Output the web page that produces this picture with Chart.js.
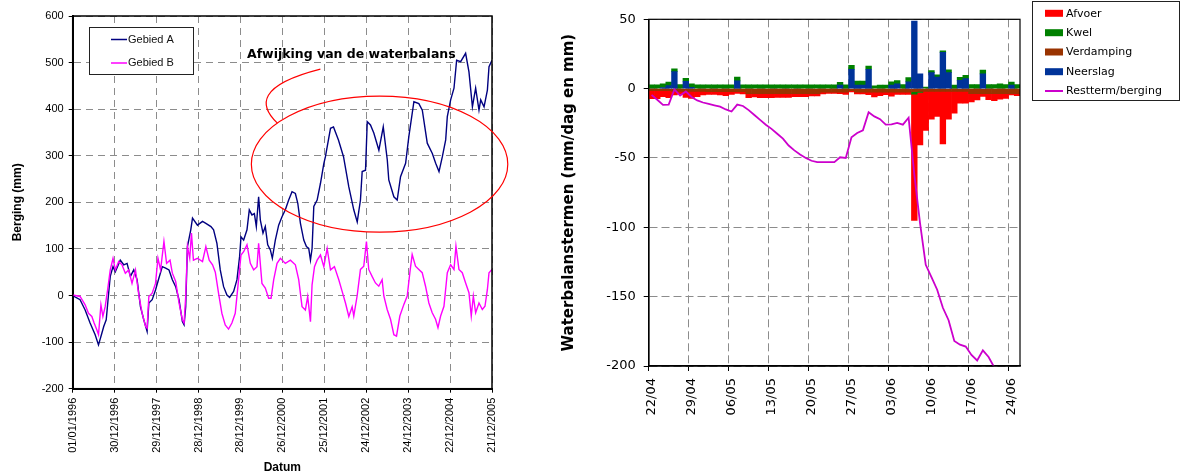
<!DOCTYPE html>
<html><head><meta charset="utf-8">
<script src="https://cdn.jsdelivr.net/npm/chart.js@4.4.0/dist/chart.umd.min.js"></script>
<style>
html,body{margin:0;padding:0;background:#fff;}
#wrap{position:relative;width:1188px;height:475px;overflow:hidden;background:#fff;}
#c1{position:absolute;left:0;top:0;}
#c2{position:absolute;left:560px;top:0;}
</style></head><body>
<div id="wrap"><canvas id="c1" width="560" height="475"></canvas><canvas id="c2" width="628" height="475"></canvas></div>
<script>
// ---------- LEFT CHART DATA ----------
const leftTickLabels = ['01/01/1996','30/12/1996','29/12/1997','28/12/1998','28/12/1999','26/12/2000','25/12/2001','24/12/2002','24/12/2003','22/12/2004','21/12/2005'];
const leftSeriesNames = ['Gebied A','Gebied B'];
// day number since 01/01/1996
const dagA = [0,64,108,151,195,224,253,270,291,312,326,350,370,413,443,472,501,530,559,588,617,646,661,690,719,748,778,807,836,865,894,923,952,967,981,996,1025,1040,1083,1127,1156,1200,
1223,1252,1281,1310,1339,1362,1397,1426,1449,1461,1484,1513,1533,1556,1577,1594,1614,1629,1652,1672,1693,1716,1733,1759,1788,1817,1846,1875,1904,1933,1954,1977,2006,2029,2049,2064,2078,2093,2122,2151,2180,
2194,2238,2264,2307,2351,2397,2440,2470,2498,2513,2542,2557,2585,2614,2658,2696,2731,2744,2788,2817,2846,2890,2918,2962,3005,3035,3078,3122,3151,3180,3209,3238,3252,3281,3310,3333,3368,3411,3440,3470,3498,3527,3542,3571,3600,3614,3640];
const bergingA = [0,-9,-31,-59,-84,-106,-81,-66,-52,5,41,62,51,76,66,69,41,55,34,-24,-52,-77,-16,-9,12,37,62,59,55,34,19,-9,-56,-63,-24,105,141,166,151,159,155,148,
141,112,55,19,1,-4,9,34,84,126,119,141,184,173,176,148,212,162,134,148,109,98,80,119,151,169,184,205,223,219,198,155,119,105,101,76,101,191,205,241,283,
298,359,362,334,298,233,184,158,205,266,269,373,366,349,312,362,291,248,212,205,255,284,341,416,412,398,327,305,284,266,298,334,384,420,445,505,502,520,480,405,445,398,420,405,441,491,505];
const dagB = [0,64,108,137,166,186,210,224,245,262,282,303,326,350,370,399,428,457,486,515,545,574,603,632,646,661,690,719,740,763,792,815,845,865,894,923,952,967,981,996,1016,1031,1048,1083,1127,1156,1185,1214,1238,
1266,1295,1324,1353,1382,1411,1440,1461,1484,1513,1542,1571,1600,1614,1643,1672,1701,1722,1745,1774,1803,1846,1890,1933,1962,1991,2020,2040,2064,2078,2099,2122,2151,2180,2209,2238,2272,2310,2339,2368,2397,2426,
2440,2469,2498,2527,2550,2570,2599,2628,2657,2686,2701,2730,2759,2788,2811,2840,2875,2904,2927,2947,2976,3005,3034,3063,3092,3121,3150,3171,3194,3223,3252,3281,3310,3327,3353,3382,3411,3440,3460,3478,3498,3527,3556,3579,3600,3614,3640];
const bergingB = [1,-2,-20,-38,-45,-59,-74,-84,-20,-45,-24,12,55,80,55,73,66,48,55,26,55,1,-38,-66,-70,-2,5,26,80,55,116,69,76,48,30,-16,-52,-59,-2,105,80,134,76,80,73,105,76,66,50,
5,-38,-63,-72,-59,-38,34,87,94,109,69,55,62,112,26,16,-6,-6,34,69,80,69,76,66,34,-24,-31,-2,-56,23,62,76,87,62,101,55,62,34,9,-16,-45,-24,
-44,-1,56,63,116,56,41,27,20,34,-1,-30,-51,-84,-87,-44,-19,-1,49,88,63,56,49,20,-16,-37,-51,-69,-44,-23,49,66,56,106,56,49,27,6,-44,-1,-37,-16,-30,-23,13,49,56];
// annotation in data units (days, mm)
const annotationText = 'Afwijking van de waterbalans';
const ellipseData = {cx:2664, cy:282, rx:1113, ry:146};
const pointerCurve = [[1777,370],[1611,409],[1611,452],[2150,486]];
const annotationAnchor = [1513,509];

// ---------- RIGHT CHART DATA ----------
const rightTickLabels = ['22/04','29/04','06/05','13/05','20/05','27/05','03/06','10/06','17/06','24/06'];
const rightLegendOrder = ['Afvoer','Kwel','Verdamping','Neerslag','Restterm/berging'];
const afvoer = [-5.7,-5.7,-4.3,-5.0,-2.6,-2.0,-4.3,-5.0,-3.8,-2.6,
 -1.9,-1.9,-2.4,-2.8,-1.9,-1.2,-1.6,-2.9,-2.4,-2.9,
 -2.9,-2.9,-2.7,-2.7,-2.7,-2.2,-2.2,-2.2,-1.7,-1.7,
 -1.3,-0.9,-0.9,-1.1,-1.6,-0.9,-1.3,-1.3,-1.8,-3.5,
 -2.5,-1.8,-3.0,-1.6,-1.6,-1.6,-91,-37.8,-28.2,-20,
 -18,-37.8,-20,-15.7,-8.5,-8.5,-6.0,-4.5,-2.1,-4.4,
 -5.0,-4.0,-3.4,-0.9,-1.4];
const kwel = [2.8,2.8,2.6,2.5,2.0,2.9,2.2,2.4,2.8,2.8,
 2.8,2.8,2.8,2.8,2.8,2.8,2.8,2.8,2.8,2.8,
 2.8,2.8,2.8,2.8,2.8,2.8,2.8,2.8,2.8,2.8,
 2.8,2.8,2.8,2.0,2.8,2.8,2.9,2.9,2.2,2.0,
 2.6,2.6,2.4,2.4,2.9,2.9,-1.8,-0.8,1.2,1.5,
 1.6,1.0,2.0,2.6,2.2,2.4,3.0,3.0,2.8,2.9,
 2.9,3.4,3.0,2.2,2.9];
const verdamping = [-1.5,-1.5,-1.5,-1.5,-2.0,-2.0,-2.0,-2.0,-2.0,-2.0,
 -2.2,-2.2,-2.2,-2.2,-2.2,-2.2,-2.2,-3.6,-3.6,-3.6,
 -3.6,-3.6,-3.6,-3.6,-3.6,-3.6,-3.6,-3.6,-3.6,-3.6,
 -2.5,-2.5,-2.5,-2.5,-2.5,-1.5,-2.5,-2.5,-2.5,-2.5,
 -2.5,-2.5,-2.5,-2.5,-2.5,-2.5,-2.2,-2.0,-2.0,-2.0,
 -2.0,-2.0,-2.0,-2.0,-2.0,-2.0,-3.6,-3.6,-3.6,-3.6,
 -3.6,-3.6,-3.6,-3.6,-3.6];
const neerslag = [0,0,0.8,2.2,12.3,0,5.3,1.0,0,0,
 0,0,0,0,0,5.6,0,0,0,0,
 0,0,0,0,0,0,0,0,0,0,
 0,0,0,2.6,0,14,2.6,2.6,14,0,
 0,0,2.6,3.4,0,5.0,48.8,10.6,0,11.5,
 8.3,26.2,11.5,0,6.0,7.2,0,0,10.6,0,
 0,0,0,2.6,0];
const restterm = [-4.5,-8,-11.7,-11.5,-0.5,-5,-2,-6,-8.5,-10,
 -11,-12,-13,-15,-16.5,-11.5,-12.5,-15.5,-19,-22.5,
 -26,-29,-32.5,-36,-41,-44.5,-47.5,-50,-52,-53,
 -53,-53,-53,-49.5,-50,-35,-32,-30,-17,-20,
 -22,-26,-25.7,-24.7,-26,-21,-62,-97,-127,-136,
 -145,-158,-167,-182,-184.6,-186,-192,-196,-188.7,-193.5,
 -201,-207];

// ---------- helpers ----------
const pairs = (xs, ys) => xs.map((x, i) => ({x: x, y: ys[i]}));
const dayBars = vals => vals.map((v, i) => ({x: i + 0.5, y: v === 0 ? null : v}));
const GRID = '#8c8c8c';

// ---------- LEFT CHART ----------
const leftFont = '"Liberation Sans", Arial, sans-serif';
const leftDecor = {
  id: 'leftDecor',
  afterDraw(chart) {
    const {ctx, chartArea: a, scales: {x, y}} = chart;
    ctx.save();
    ctx.strokeStyle = '#000'; ctx.lineWidth = 1.5;
    ctx.strokeRect(a.left, a.top, a.right - a.left, a.bottom - a.top);
    // legend box
    ctx.fillStyle = '#fff'; ctx.fillRect(89.5, 27.5, 104, 47);
    ctx.lineWidth = 1; ctx.strokeStyle = '#222'; ctx.strokeRect(89.5, 27.5, 104, 47);
    const rows = [39.5, 63];
    leftSeriesNames.forEach((name, i) => {
      const ds = chart.data.datasets.find(d => d.label === name);
      ctx.strokeStyle = ds.borderColor; ctx.lineWidth = 1.5;
      ctx.beginPath(); ctx.moveTo(111, rows[i]); ctx.lineTo(127, rows[i]); ctx.stroke();
      ctx.fillStyle = '#111'; ctx.font = '11px ' + leftFont;
      ctx.textBaseline = 'middle'; ctx.textAlign = 'left';
      ctx.fillText(name, 128, rows[i]);
    });
    // annotation
    const px = v => x.getPixelForValue(v), py = v => y.getPixelForValue(v);
    const cx = px(ellipseData.cx), cy = py(ellipseData.cy);
    const rx = px(ellipseData.cx + ellipseData.rx) - cx;
    const ry = py(ellipseData.cy - ellipseData.ry) - cy;
    ctx.strokeStyle = '#ff0000'; ctx.lineWidth = 1.2;
    ctx.beginPath(); ctx.ellipse(cx, cy, rx, ry, 0, 0, Math.PI * 2); ctx.stroke();
    const c = pointerCurve.map(p => [px(p[0]), py(p[1])]);
    ctx.beginPath(); ctx.moveTo(c[0][0], c[0][1]);
    ctx.bezierCurveTo(c[1][0], c[1][1], c[2][0], c[2][1], c[3][0], c[3][1]); ctx.stroke();
    ctx.fillStyle = '#000'; ctx.font = 'bold 12.5px "DejaVu Sans", Verdana, sans-serif';
    ctx.textAlign = 'left'; ctx.textBaseline = 'alphabetic';
    ctx.fillText(annotationText, px(annotationAnchor[0]), py(annotationAnchor[1]));
    ctx.restore();
  }
};

new Chart(document.getElementById('c1'), {
  type: 'line',
  data: {
    datasets: [
      {label: leftSeriesNames[0], data: pairs(dagA, bergingA), borderColor: '#000080', borderWidth: 1.4, pointRadius: 0, tension: 0, order: 1},
      {label: leftSeriesNames[1], data: pairs(dagB, bergingB), borderColor: '#ff00ff', borderWidth: 1.4, pointRadius: 0, tension: 0, order: 0}
    ]
  },
  options: {
    responsive: false, animation: false, devicePixelRatio: 1,
    layout: {padding: {top: 16, right: 68, left: 0, bottom: 0}},
    plugins: {legend: {display: false}, tooltip: {enabled: false}},
    scales: {
      x: {
        type: 'linear', min: 0, max: 3640,
        ticks: {stepSize: 364, autoSkip: false, minRotation: 90, maxRotation: 90, padding: 5, color: '#000',
          font: {family: leftFont, size: 11}, callback: v => leftTickLabels[Math.round(v / 364)]},
        grid: {color: GRID, tickColor: '#000', tickLength: 4, tickBorderDash: []},
        border: {color: '#000', width: 2, dash: [7, 5]},
        title: {display: true, text: 'Datum', color: '#000', font: {family: leftFont, size: 12, weight: 'bold'}, padding: {top: 0, bottom: 0}},
        afterFit: s => { s.height = 86.3; }
      },
      y: {
        min: -200, max: 600,
        ticks: {stepSize: 100, padding: 5, color: '#000', font: {family: leftFont, size: 11}},
        grid: {color: GRID, tickColor: '#000', tickLength: 4, tickBorderDash: []},
        border: {color: '#000', width: 2, dash: [7, 5]},
        title: {display: true, text: 'Berging (mm)', color: '#000', font: {family: leftFont, size: 12, weight: 'bold'}, padding: {top: 10, bottom: 0}},
        afterFit: s => { s.width = 72.7; }
      }
    }
  },
  plugins: [leftDecor]
});

// ---------- RIGHT CHART ----------
const rightFont = '"DejaVu Sans", Verdana, sans-serif';
const rightDecor = {
  id: 'rightDecor',
  afterDraw(chart) {
    const {ctx, chartArea: a} = chart;
    ctx.save();
    ctx.strokeStyle = '#000'; ctx.lineWidth = 1.2;
    ctx.strokeRect(a.left, a.top, a.right - a.left, a.bottom - a.top);
    // legend
    ctx.lineWidth = 1; ctx.strokeStyle = '#222';
    ctx.strokeRect(472.5, 1.5, 147, 99);
    const rows = [13.3, 32.7, 52, 71.7, 91];
    ctx.font = '11px ' + rightFont; ctx.textBaseline = 'middle'; ctx.textAlign = 'left';
    rightLegendOrder.forEach((name, i) => {
      const ds = chart.data.datasets.find(d => d.label === name);
      if (ds.type === 'line') {
        ctx.strokeStyle = ds.borderColor; ctx.lineWidth = 2;
        ctx.beginPath(); ctx.moveTo(485, rows[i]); ctx.lineTo(503, rows[i]); ctx.stroke();
      } else {
        ctx.fillStyle = ds.backgroundColor; ctx.fillRect(485, rows[i] - 3.5, 18, 7);
      }
      ctx.fillStyle = '#000';
      ctx.fillText(name, 506, rows[i] + 0.5);
    });
    ctx.restore();
  }
};

new Chart(document.getElementById('c2'), {
  type: 'bar',
  data: {
    datasets: [
      {type: 'line', label: 'Restterm/berging', data: dayBars(restterm), borderColor: '#cc00cc', backgroundColor: '#cc00cc', borderWidth: 1.8, pointRadius: 0, tension: 0},
      {label: 'Neerslag', data: dayBars(neerslag), backgroundColor: '#003399', borderWidth: 0, barPercentage: 1, categoryPercentage: 1},
      {label: 'Verdamping', data: dayBars(verdamping), backgroundColor: '#993300', borderWidth: 0, barPercentage: 1, categoryPercentage: 1},
      {label: 'Kwel', data: dayBars(kwel), backgroundColor: '#008000', borderWidth: 0, barPercentage: 1, categoryPercentage: 1},
      {label: 'Afvoer', data: dayBars(afvoer), backgroundColor: '#ff0000', borderWidth: 0, barPercentage: 1, categoryPercentage: 1}
    ]
  },
  options: {
    responsive: false, animation: false, devicePixelRatio: 1,
    layout: {padding: {top: 19.3, right: 168, left: 0, bottom: 0}},
    plugins: {legend: {display: false}, tooltip: {enabled: false}},
    scales: {
      x: {
        type: 'linear', min: 0, max: 65, stacked: true, offset: false,
        ticks: {stepSize: 7, autoSkip: false, includeBounds: false, minRotation: 90, maxRotation: 90, padding: 7, labelOffset: 3,
          color: '#000', font: {family: rightFont, size: 13}, callback: v => rightTickLabels[Math.round(v / 7)]},
        grid: {offset: false, color: GRID, tickColor: '#000', tickLength: 5, tickBorderDash: []},
        border: {color: '#000', width: 1.5, dash: [8, 4]},
        afterFit: s => { s.height = 109; }
      },
      y: {
        min: -200, max: 50, stacked: true,
        ticks: {stepSize: 50, padding: 8, color: '#000', font: {family: rightFont, size: 13}},
        grid: {color: GRID, tickColor: '#000', tickLength: 5, tickBorderDash: []},
        border: {color: '#000', width: 1.5, dash: [8, 4]},
        title: {display: true, text: 'Waterbalanstermen (mm/dag en mm)', color: '#000', font: {family: rightFont, size: 15, weight: 'bold'}, padding: {top: 0, bottom: 0}},
        afterFit: s => { s.width = 88.7; }
      }
    }
  },
  plugins: [rightDecor]
});
</script>
</body></html>
